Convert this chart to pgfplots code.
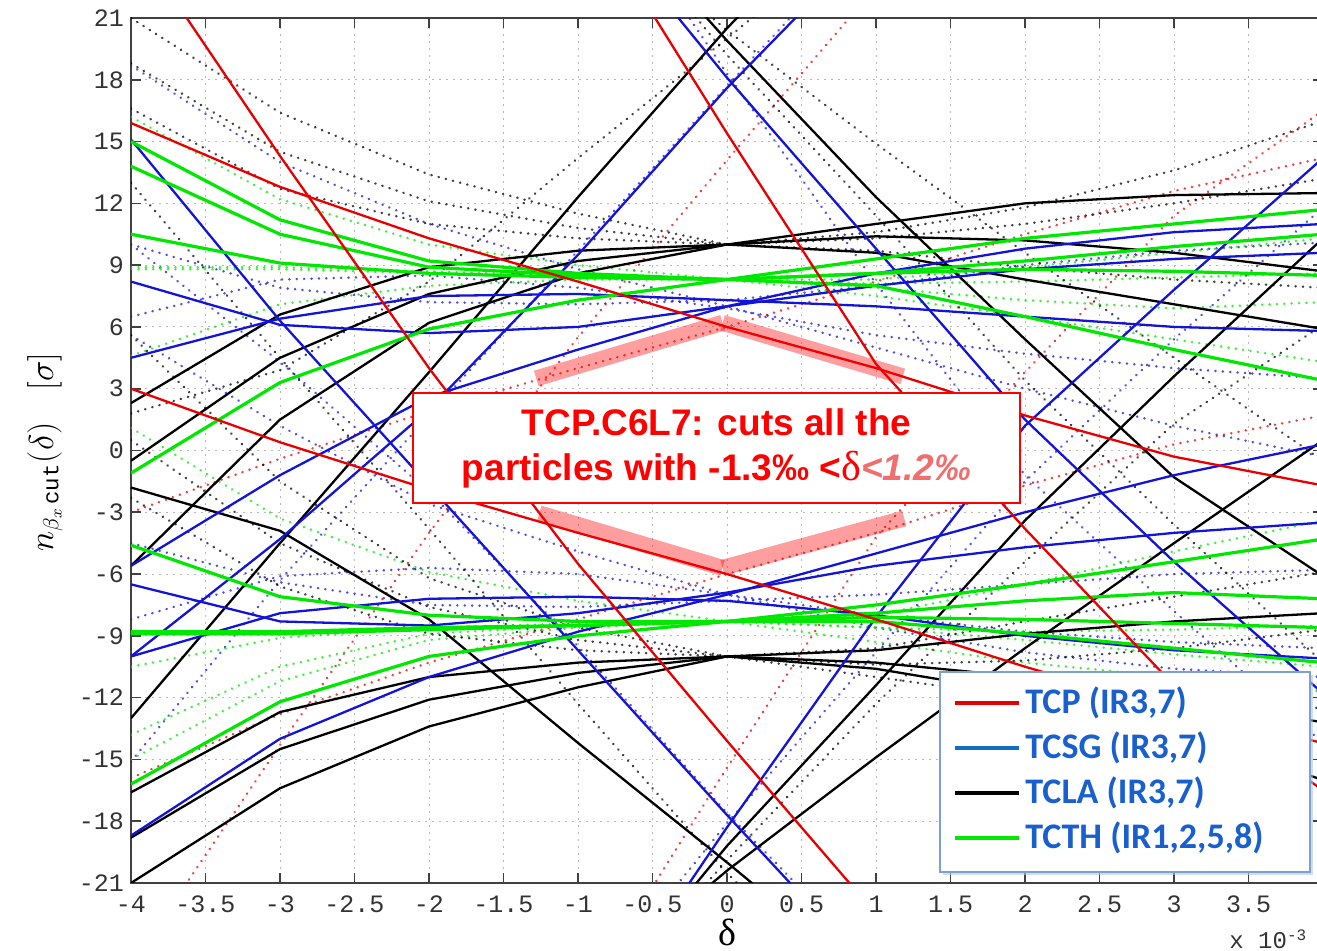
\documentclass[border=0pt]{standalone}
\usepackage{pgfplots}
\pgfplotsset{compat=1.18}
\usepackage{fontspec}
\setmainfont{Liberation Serif}
\setmonofont{Liberation Mono}
\newfontfamily\arialfont{Liberation Sans}
\newfontfamily\calfont{Carlito}
\usetikzlibrary{shadows}

\definecolor{cR}{RGB}{232,0,0}
\definecolor{cB}{RGB}{20,20,215}
\definecolor{cG}{RGB}{0,232,0}
\definecolor{cK}{RGB}{0,0,0}
\definecolor{legblue}{RGB}{25,95,205}
\definecolor{legborder}{RGB}{125,160,210}
\definecolor{steel}{RGB}{20,110,190}
\definecolor{pinkred}{RGB}{240,110,110}

\pgfplotsset{
  sol/.style={line width=1.15pt},
  solg/.style={line width=1.6pt},
  dot/.style={line width=1.3pt, dash pattern=on 0.1pt off 3.6pt, line cap=round, opacity=0.75},
}

\begin{document}
\begin{tikzpicture}
\begin{axis}[
  scale only axis, width=596pt, height=432.5pt,
  at={(0,0)}, anchor=south west,
  xmin=-4, xmax=4, ymin=-21, ymax=21,
  xtick={-4,-3.5,...,3.5}, ytick={-21,-18,...,21},
  tick align=inside, tick pos=both, major tick length=5pt,
  grid=major, grid style={line width=0.5pt, dash pattern=on 1pt off 2.5pt, color=gray!55},
  axis line style={black!75, line width=0.9pt},
  tick style={black!75, line width=0.8pt},
  ticklabel style={font=\fontsize{12.5}{12.5}\selectfont\ttfamily, black!80},
  xticklabel style={yshift=-3pt},
  /pgf/number format/assume math mode=true,
  /pgf/number format/fixed,
  clip=true,
]
% ---------- dotted (mirror) lines ----------
\addplot[dot, cR] coordinates {(-4,-15.9) (-3,-12.8) (-2,-10.3) (-1,-8.2) (0,-6.0) (1,-4.0) (2,-1.7) (3,0.3) (4,1.7)};
\addplot[dot, cR] coordinates {(-4,-3.0) (-3,-0.4) (-2,1.9) (-1,4.0) (0,6.0) (1,8.2) (2,10.5) (3,12.6) (4,14.2)};
\addplot[dot, cR] coordinates {(-4,-25) (-3,-14.3) (-2,-4.0) (-1,5.5) (0,14.1) (1,22.5)};
\addplot[dot, cR] coordinates {(-1,-27) (0,-15.4) (1,-4.2) (2,3.8) (3,11.4) (4,16.5)};
\addplot[dot, cB] coordinates {(-4,-15.1) (-3,-6.3) (-2,1.7) (-1,9.7) (0,17.7) (1,25.5)};
\addplot[dot, cB] coordinates {(-1,-27) (0,-18.1) (1,-9.8) (2,-1.5) (3,5.4) (4,11.8)};
\addplot[dot, cB] coordinates {(-1,29) (0,18.3) (1,8.1) (2,-1.2) (3,-7.8) (4,-14.2)};
\addplot[dot, cB] coordinates {(-4,10.0) (-3,4.3) (-2,-2.0) (-1,-9.5) (0,-17.6) (1,-25)};
\addplot[dot, cB] coordinates {(-4,10.0) (-3,7.9) (-2,7.2) (-1,7.1) (0,7.3) (1,8.0) (2,9.0) (3,9.7) (4,10.1)};
\addplot[dot, cB] coordinates {(-4,6.5) (-3,8.3) (-2,8.5) (-1,7.9) (0,6.9) (1,5.6) (2,4.7) (3,4.0) (4,3.5)};
\addplot[dot, cB] coordinates {(-4,18.7) (-3,14.0) (-2,11.0) (-1,8.8) (0,7.0) (1,5.0) (2,3.0) (3,1.2) (4,-0.3)};
\addplot[dot, cB] coordinates {(-4,-8.2) (-3,-6.1) (-2,-5.7) (-1,-6.0) (0,-7.0) (1,-8.0) (2,-8.8) (3,-9.3) (4,-9.6)};
\addplot[dot, cB] coordinates {(-4,-4.5) (-3,-6.4) (-2,-7.5) (-1,-7.6) (0,-7.3) (1,-7.0) (2,-6.5) (3,-6.0) (4,-5.8)};
\addplot[dot, cB] coordinates {(-4,5.6) (-3,1.2) (-2,-2.6) (-1,-4.9) (0,-7.0) (1,-8.6) (2,-9.8) (3,-10.6) (4,-11.0)};
\addplot[dot, cG] coordinates {(-4,-15.0) (-3,-11.2) (-2,-9.2) (-1,-8.6) (0,-8.3) (1,-8.0) (2,-6.5) (3,-4.9) (4,-3.4)};
\addplot[dot, cG] coordinates {(-4,-13.8) (-3,-10.5) (-2,-8.9) (-1,-8.5) (0,-8.3) (1,-8.6) (2,-8.8) (3,-8.7) (4,-8.5)};
\addplot[dot, cG] coordinates {(-4,-10.5) (-3,-9.1) (-2,-8.6) (-1,-8.4) (0,-8.3) (1,-8.6) (2,-9.2) (3,-9.9) (4,-10.5)};
\addplot[dot, cG] coordinates {(-4,1.1) (-3,-3.3) (-2,-5.9) (-1,-7.3) (0,-8.3) (1,-9.3) (2,-10.3) (3,-11.0) (4,-11.7)};
\addplot[dot, cG] coordinates {(-4,4.6) (-3,7.1) (-2,8.0) (-1,8.3) (0,8.3) (1,8.3) (2,8.9) (3,9.6) (4,10.3)};
\addplot[dot, cG] coordinates {(-4,8.9) (-3,8.9) (-2,8.7) (-1,8.5) (0,8.3) (1,8.1) (2,8.2) (3,8.4) (4,8.6)};
\addplot[dot, cG] coordinates {(-4,16.2) (-3,12.2) (-2,10.0) (-1,9.0) (0,8.3) (1,7.5) (2,6.5) (3,5.4) (4,4.3)};
\addplot[dot, cG] coordinates {(-4,8.8) (-3,8.8) (-2,8.6) (-1,8.5) (0,8.3) (1,7.9) (2,7.3) (3,6.9) (4,7.2)};
\addplot[dot, cK] coordinates {(-4,-2.3) (-3,-6.6) (-2,-8.9) (-1,-9.7) (0,-10.0) (1,-11.0) (2,-12.0) (3,-12.4) (4,-12.5)};
\addplot[dot, cK] coordinates {(-4,0.5) (-3,-4.5) (-2,-7.6) (-1,-9.2) (0,-10.0) (1,-10.4) (2,-10.2) (3,-9.6) (4,-8.7)};
\addplot[dot, cK] coordinates {(-4,5.6) (-3,-1.5) (-2,-6.2) (-1,-8.6) (0,-10.0) (1,-9.6) (2,-8.3) (3,-7.1) (4,-5.9)};
\addplot[dot, cK] coordinates {(-4,13.0) (-3,4.5) (-2,-3.8) (-1,-12.3) (0,-20.5) (1,-28)};
\addplot[dot, cK] coordinates {(-1,28) (0,19.2) (1,11.4) (2,3.4) (3,-3.6) (4,-10.3)};
\addplot[dot, cK] coordinates {(-1,26.5) (0,20.4) (1,14.9) (2,9.6) (3,4.5) (4,-0.5)};
\addplot[dot, cK] coordinates {(-4,16.6) (-3,12.7) (-2,11.0) (-1,10.3) (0,10.0) (1,9.7) (2,8.9) (3,8.3) (4,7.9)};
\addplot[dot, cK] coordinates {(-4,18.8) (-3,14.5) (-2,12.1) (-1,10.8) (0,10.0) (1,10.3) (2,11.0) (3,12.0) (4,13.2)};
\addplot[dot, cK] coordinates {(-4,21.0) (-3,16.4) (-2,13.4) (-1,11.5) (0,10.0) (1,10.6) (2,11.8) (3,13.6) (4,16.0)};
\addplot[dot, cK] coordinates {(-1,-28) (0,-19.9) (1,-12.3) (2,-5.4) (3,1.3) (4,6.1)};
\addplot[dot, cK] coordinates {(-4,1.8) (-3,3.9) (-2,8.2) (-1,14.2) (0,20.0) (1,26)};
% ---------- solid lines ----------
% TCLA (black)
\addplot[sol, cK] coordinates {(-4,2.3) (-3,6.6) (-2,8.9) (-1,9.7) (0,10.0) (1,11.0) (2,12.0) (3,12.4) (4,12.5)};
\addplot[sol, cK] coordinates {(-4,-0.5) (-3,4.5) (-2,7.6) (-1,9.2) (0,10.0) (1,10.4) (2,10.2) (3,9.6) (4,8.7)};
\addplot[sol, cK] coordinates {(-4,-5.6) (-3,1.5) (-2,6.2) (-1,8.6) (0,10.0) (1,9.6) (2,8.3) (3,7.1) (4,5.9)};
\addplot[sol, cK] coordinates {(-4,-13.0) (-3,-4.5) (-2,3.8) (-1,12.3) (0,20.5) (1,28)};
\addplot[sol, cK] coordinates {(-1,-28) (0,-19.2) (1,-11.4) (2,-3.4) (3,3.6) (4,10.3)};
\addplot[sol, cK] coordinates {(-1,-26.5) (0,-20.4) (1,-14.9) (2,-9.6) (3,-4.5) (4,0.5)};
\addplot[sol, cK] coordinates {(-4,-16.6) (-3,-12.7) (-2,-11.0) (-1,-10.3) (0,-10.0) (1,-9.7) (2,-8.9) (3,-8.3) (4,-7.9)};
\addplot[sol, cK] coordinates {(-4,-18.8) (-3,-14.5) (-2,-12.1) (-1,-10.8) (0,-10.0) (1,-10.3) (2,-11.0) (3,-12.0) (4,-13.2)};
\addplot[sol, cK] coordinates {(-4,-21.0) (-3,-16.4) (-2,-13.4) (-1,-11.5) (0,-10.0) (1,-10.6) (2,-11.8) (3,-13.6) (4,-16.0)};
\addplot[sol, cK] coordinates {(-1,28) (0,19.9) (1,12.3) (2,5.4) (3,-1.3) (4,-6.1)};
\addplot[sol, cK] coordinates {(-4,-1.8) (-3,-3.9) (-2,-8.2) (-1,-14.2) (0,-20.0) (1,-26)};
% TCSG (blue)
\addplot[sol, cB] coordinates {(-4,15.1) (-3,6.3) (-2,-1.7) (-1,-9.7) (0,-17.7) (1,-25.5)};
\addplot[sol, cB] coordinates {(-1,27) (0,18.1) (1,9.8) (2,1.5) (3,-5.4) (4,-11.8)};
\addplot[sol, cB] coordinates {(-1,-29) (0,-18.3) (1,-8.1) (2,1.2) (3,7.8) (4,14.2)};
\addplot[sol, cB] coordinates {(-4,-10.0) (-3,-4.3) (-2,2.0) (-1,9.5) (0,17.6) (1,25)};
\addplot[sol, cB] coordinates {(-4,-10.0) (-3,-7.9) (-2,-7.2) (-1,-7.1) (0,-7.3) (1,-8.0) (2,-9.0) (3,-9.7) (4,-10.1)};
\addplot[sol, cB] coordinates {(-4,-6.5) (-3,-8.3) (-2,-8.5) (-1,-7.9) (0,-6.9) (1,-5.6) (2,-4.7) (3,-4.0) (4,-3.5)};
\addplot[sol, cB] coordinates {(-4,-18.7) (-3,-14.0) (-2,-11.0) (-1,-8.8) (0,-7.0) (1,-5.0) (2,-3.0) (3,-1.2) (4,0.3)};
\addplot[sol, cB] coordinates {(-4,8.2) (-3,6.1) (-2,5.7) (-1,6.0) (0,7.0) (1,8.0) (2,8.8) (3,9.3) (4,9.6)};
\addplot[sol, cB] coordinates {(-4,4.5) (-3,6.4) (-2,7.5) (-1,7.6) (0,7.3) (1,7.0) (2,6.5) (3,6.0) (4,5.8)};
\addplot[sol, cB] coordinates {(-4,-5.6) (-3,-1.2) (-2,2.6) (-1,4.9) (0,7.0) (1,8.6) (2,9.8) (3,10.6) (4,11.0)};
% TCTH (green)
\addplot[solg, cG] coordinates {(-4,15.0) (-3,11.2) (-2,9.2) (-1,8.6) (0,8.3) (1,8.0) (2,6.5) (3,4.9) (4,3.4)};
\addplot[solg, cG] coordinates {(-4,13.8) (-3,10.5) (-2,8.9) (-1,8.5) (0,8.3) (1,8.6) (2,8.8) (3,8.7) (4,8.5)};
\addplot[solg, cG] coordinates {(-4,10.5) (-3,9.1) (-2,8.6) (-1,8.4) (0,8.3) (1,8.6) (2,9.2) (3,9.9) (4,10.5)};
\addplot[solg, cG] coordinates {(-4,-1.1) (-3,3.3) (-2,5.9) (-1,7.3) (0,8.3) (1,9.3) (2,10.3) (3,11.0) (4,11.7)};
\addplot[solg, cG] coordinates {(-4,-4.6) (-3,-7.1) (-2,-8.0) (-1,-8.3) (0,-8.3) (1,-8.3) (2,-8.9) (3,-9.6) (4,-10.3)};
\addplot[solg, cG] coordinates {(-4,-8.9) (-3,-8.9) (-2,-8.7) (-1,-8.5) (0,-8.3) (1,-8.1) (2,-8.2) (3,-8.4) (4,-8.6)};
\addplot[solg, cG] coordinates {(-4,-16.2) (-3,-12.2) (-2,-10.0) (-1,-9.0) (0,-8.3) (1,-7.5) (2,-6.5) (3,-5.4) (4,-4.3)};
\addplot[solg, cG] coordinates {(-4,-8.8) (-3,-8.8) (-2,-8.6) (-1,-8.5) (0,-8.3) (1,-7.9) (2,-7.3) (3,-6.9) (4,-7.2)};
% TCP (red)
\addplot[sol, cR] coordinates {(-4,15.9) (-3,12.8) (-2,10.3) (-1,8.2) (0,6.0) (1,4.0) (2,1.7) (3,-0.3) (4,-1.7)};
\addplot[sol, cR] coordinates {(-4,3.0) (-3,0.4) (-2,-1.9) (-1,-4.0) (0,-6.0) (1,-8.2) (2,-10.5) (3,-12.6) (4,-14.2)};
\addplot[sol, cR] coordinates {(-4,25) (-3,14.3) (-2,4.0) (-1,-5.5) (0,-14.1) (1,-22.5)};
\addplot[sol, cR] coordinates {(-1,27) (0,15.4) (1,4.2) (2,-3.8) (3,-11.4) (4,-16.5)};
% ---------- highlight of the TCP cut ----------
\draw[red, opacity=0.38, line width=8pt] (axis cs:-1.28,3.5) -- (axis cs:-0.03,6.2);
\draw[red, opacity=0.38, line width=8pt] (axis cs:-0.03,6.2) -- (axis cs:1.18,3.6);
\draw[red, opacity=0.38, line width=8pt] (axis cs:-1.26,-3.05) -- (axis cs:-0.03,-5.7);
\draw[red, opacity=0.38, line width=8pt] (axis cs:-0.03,-5.7) -- (axis cs:1.19,-3.3);
% ---------- annotation box ----------
\draw[red, fill=white, line width=0.8pt] (axis cs:-2.107,-2.55) rectangle (axis cs:1.966,2.79);
\node[align=center, text=red, font=\arialfont\bfseries\fontsize{18.5}{22.5}\selectfont]
  at (axis cs:-0.07,0.12) {TCP.C6L7: cuts all the\\particles with -1.3‰ <{\mdseries\rmfamily\fontsize{21}{22.5}\selectfont δ}{\itshape\color{pinkred}<1.2‰}};
\end{axis}
% axis labels
\node[rotate=90, font=\fontsize{16}{16}\selectfont] at (-43pt,215.5pt)
  {$n_{\beta_{x}\,\mathtt{cut}}(\delta)$\quad$[\sigma]$};
\node[font=\fontsize{19}{19}\selectfont, inner sep=0pt] at (298pt,-24.5pt) {δ};
\node[anchor=base west, font=\fontsize{12}{12}\selectfont\ttfamily, black!80, inner sep=0pt] at (549pt,-33pt) {x 10\textsuperscript{-3}};
% legend
\draw[legborder, line width=1.4pt, fill=white, drop shadow={shadow xshift=1.5pt, shadow yshift=-1.5pt, fill=legborder!60, opacity=0.6}] (404.5pt,5.5pt) rectangle (589.5pt,105.5pt);
\draw[cR, line width=1.6pt] (412pt,90pt) -- (444pt,90pt);
\draw[steel, line width=1.6pt] (412pt,67.5pt) -- (444pt,67.5pt);
\draw[black, line width=1.6pt] (412pt,45pt) -- (444pt,45pt);
\draw[cG, line width=1.6pt] (412pt,22.5pt) -- (444pt,22.5pt);
\begin{scope}[every node/.style={anchor=west, text=legblue, font=\calfont\bfseries\fontsize{18}{18}\selectfont, inner sep=0pt}]
\node at (447pt,90pt) {TCP (IR3,7)};
\node at (447pt,67.5pt) {TCSG (IR3,7)};
\node at (447pt,45pt) {TCLA (IR3,7)};
\node at (447pt,22.5pt) {TCTH (IR1,2,5,8)};
\end{scope}
\pgfresetboundingbox
\path[use as bounding box] (-65.5pt,-34pt) rectangle (593pt,441.5pt);
\end{tikzpicture}
\end{document}
